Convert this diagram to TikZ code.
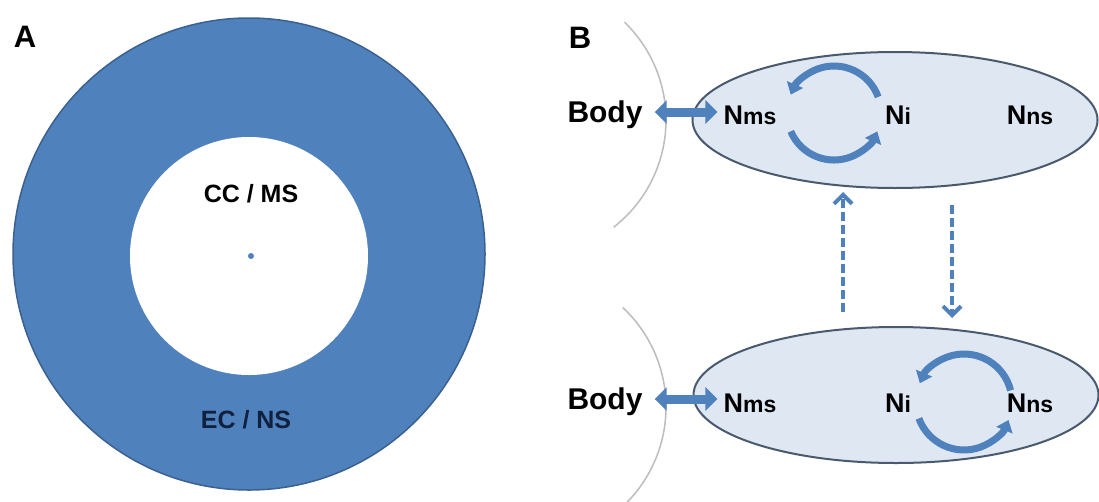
\documentclass[tikz,border=0pt]{standalone}
\usepackage{fontspec}
\setmainfont{Liberation Sans}
\usetikzlibrary{positioning,shapes.geometric,arrows.meta}
\definecolor{ringblue}{HTML}{4F81BD}
\definecolor{ringedge}{HTML}{3A6190}
\definecolor{cellfill}{HTML}{DFE7F2}
\definecolor{celledge}{HTML}{4A5A6E}
\definecolor{navy}{HTML}{10203F}
\definecolor{shellgray}{HTML}{BDBDBD}

\begin{document}
\begin{tikzpicture}[x=1pt,y=-1pt,on grid,node distance=10pt,
   lbl/.style={font=\bfseries\fontsize{27}{27}\selectfont,inner sep=0pt,text depth=0pt},
   big/.style={font=\bfseries\fontsize{30}{30}\selectfont,inner sep=0pt,text depth=0pt},
   cell/.style={ellipse,draw=celledge,line width=2pt,fill=cellfill,minimum width=405pt,minimum height=136pt,inner sep=0pt},
   exch/.style={draw=ringblue,line width=9pt,{Triangle[width=23pt,length=12pt]}-{Triangle[width=23pt,length=12pt]}},
   cyc/.style={draw=ringblue,line width=7pt,-{Triangle[width=17pt,length=11pt]}},
   flux/.style={draw=ringblue,line width=4pt,dash pattern=on 9pt off 4pt,-{Straight Barb[width=18pt,length=9pt]}},
   shell/.style={draw=shellgray,line width=1.5pt}]
   \useasboundingbox (0,0) rectangle (1099,501);
   \fill[white] (0,0) rectangle (1099,501);

   % panel A
   \node[circle,fill=ringblue,draw=ringedge,line width=1.5pt,minimum size=472pt,inner sep=0pt] (ring) at (249,254) {};
   \node[circle,fill=white,minimum size=238pt,inner sep=0pt] (core) at (249,256) {};
   \node[circle,fill=ringblue,minimum size=6pt,inner sep=0pt] (centre) at (251,256) {};
   \node[big,font=\bfseries\fontsize{31}{31}\selectfont] (A) at (25,37) {A};
   \node[lbl,font=\bfseries\fontsize{25}{25}\selectfont] (ccms) at (251,193) {CC / MS};
   \node[lbl,font=\bfseries\fontsize{25}{25}\selectfont,text=navy] (ecns) at (246,419) {EC / NS};

   % panel B
   \node[big,font=\bfseries\fontsize{31}{31}\selectfont] (B) at (580,38) {B};
   \coordinate (bodyc1) at (530,120);
   \coordinate (bodyc2) at (530,407);
   \draw[shell] ([shift={(-46:136)}]bodyc1) arc[start angle=-46,end angle=52,radius=136];
   \draw[shell] ([shift={(-47:136)}]bodyc2) arc[start angle=-47,end angle=45,radius=136];

   \node[cell] (cell1) at (895,120) {};
   \node[cell] (cell2) at (896,395) {};

   \node[big] (body1) at (605,112) {Body};
   \node[lbl] (nms1) at (750,115) {N{\fontsize{23}{23}\selectfont ms}};
   \node[lbl] (ni1) [right=148 of nms1] {N{\fontsize{23}{23}\selectfont i}};
   \node[lbl] (nns1) [right=132 of ni1] {N{\fontsize{23}{23}\selectfont ns}};

   \node[big] (body2) at (605,399) {Body};
   \node[lbl] (nms2) at (750,403) {N{\fontsize{23}{23}\selectfont ms}};
   \node[lbl] (ni2) [right=148 of nms2] {N{\fontsize{23}{23}\selectfont i}};
   \node[lbl] (nns2) [right=132 of ni2] {N{\fontsize{23}{23}\selectfont ns}};

   \draw[exch,shorten <=12pt,shorten >=6pt] (body1.east) -- (body1.east -| nms1.west);
   \draw[exch,shorten <=12pt,shorten >=6pt] (body2.east) -- (body2.east -| nms2.west);

   % exchange cycles
   \coordinate (cyc1) at (834,113);
   \coordinate (cyc2) at (964,402);
   \draw[cyc] ([shift={(-20:47)}]cyc1) arc[start angle=-20,end angle=-157,radius=47];
   \draw[cyc] ([shift={(157:47)}]cyc1) arc[start angle=157,end angle=23,radius=47];
   \draw[cyc] ([shift={(-14:48)}]cyc2) arc[start angle=-14,end angle=-157,radius=48];
   \draw[cyc] ([shift={(160:48)}]cyc2) arc[start angle=160,end angle=22,radius=48];

   % transitions
   \coordinate (up0) at (843,312);
   \coordinate (up1) at (843,192);
   \coordinate (dn0) at (952,205);
   \coordinate (dn1) at (952,318);
   \draw[flux] (up0) -- (up1);
   \draw[flux] (dn0) -- (dn1);
\end{tikzpicture}
\end{document}
